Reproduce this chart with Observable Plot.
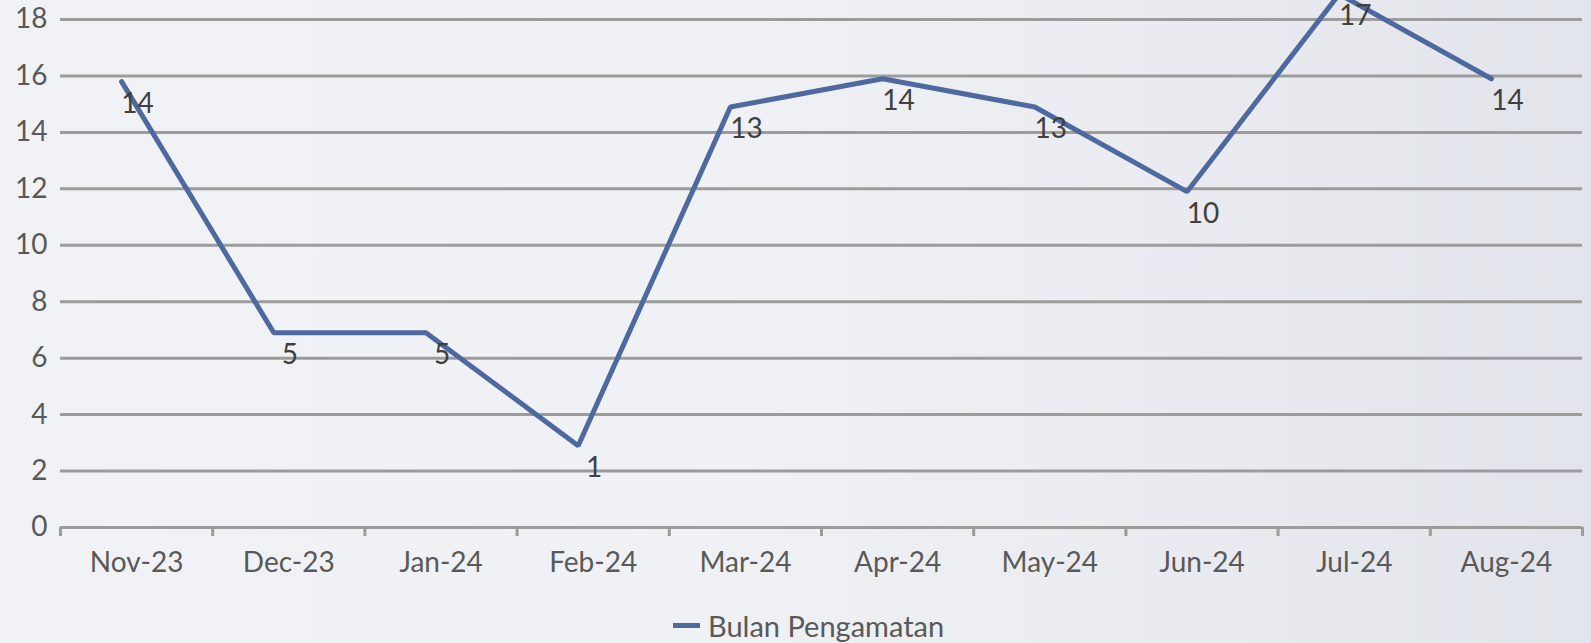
<!DOCTYPE html>
<html>
<head>
<meta charset="utf-8">
<script src="https://cdn.jsdelivr.net/npm/d3@7"></script>
<script src="https://cdn.jsdelivr.net/npm/@observablehq/plot@0.6"></script>
<style>
  html, body { margin: 0; padding: 0; }
  body {
    width: 1591px; height: 643px; overflow: hidden; position: relative;
    background: linear-gradient(90deg, #f1f2f5 0%, #eff1f4 45%, #e9ebf0 75%, #e1e4ea 100%);
    font-family: Lato, "Open Sans", sans-serif;
  }
  #chart { position: absolute; left: 0; top: 0; }
  #legend { position: absolute; left: 673px; top: 606px; height: 38px; display: flex; align-items: center; color: #595959; font-size: 29px; }
  #legend .sw { width: 27px; height: 5px; background: #4e68a0; margin-right: 8px; }
</style>
</head>
<body>
<div id="chart"></div>
<div id="legend"><span class="sw"></span><span>Bulan Pengamatan</span></div>
<script>
const months = ["Nov-23", "Dec-23", "Jan-24", "Feb-24", "Mar-24", "Apr-24", "May-24", "Jun-24", "Jul-24", "Aug-24"];
// plotted line heights (as drawn in the picture)
const lineValues = [15.8, 6.9, 6.9, 2.9, 14.9, 15.9, 14.9, 11.9, 18.9, 15.9];
// data labels shown next to points
const labelValues = [14, 5, 5, 1, 13, 14, 13, 10, 17, 14];
const yTicks = [0, 2, 4, 6, 8, 10, 12, 14, 16, 18];

const data = months.map((m, i) => ({month: m, pos: i + 0.5, value: lineValues[i], label: labelValues[i]}));
const boundaries = d3.range(months.length + 1);

const lineColor = "#4e68a0";
const gridColor = "#9c9c9c";

const chart = Plot.plot({
  width: 1591,
  height: 600,
  marginTop: 19,
  marginBottom: 73,
  marginLeft: 60,
  marginRight: 9,
  style: {background: "transparent", overflow: "hidden", fontFamily: "Lato, 'Open Sans', sans-serif", fontSize: "28px", color: "#595959"},
  x: {type: "linear", domain: [0, months.length], axis: "bottom", ticks: data.map(d => d.pos), tickFormat: d => months[Math.floor(d)], tickSize: 0, tickPadding: 25, label: null},
  y: {domain: [0, 18], ticks: yTicks, tickSize: 0, tickPadding: 13, label: null, tickFormat: d => String(d)},
  marks: [
    Plot.ruleY(yTicks, {stroke: gridColor, strokeWidth: 3}),
    Plot.ruleX(boundaries, {y1: 0, y2: -0.32, stroke: gridColor, strokeWidth: 3}),
    Plot.line(data, {x: "pos", y: "value", stroke: lineColor, strokeWidth: 5, dx: -15, strokeLinejoin: "miter"}),
    Plot.text(data, {x: "pos", y: "value", text: d => String(d.label), dy: 22, dx: 1, fontSize: 28, fill: "#404040"})
  ]
});
document.getElementById("chart").appendChild(chart);
</script>
</body>
</html>
